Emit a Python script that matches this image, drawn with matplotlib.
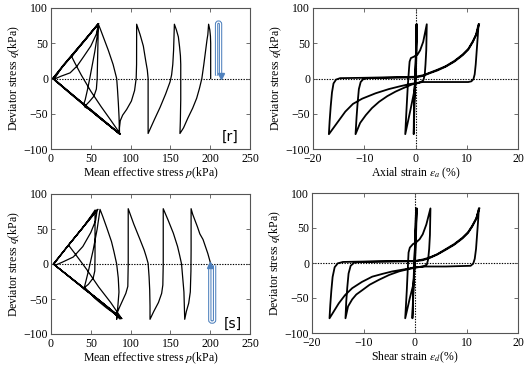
import matplotlib
matplotlib.use("Agg")
import matplotlib.pyplot as plt
from matplotlib.path import Path
from matplotlib.patches import PathPatch

plt.rcParams['font.family'] = ['Liberation Serif', 'DejaVu Serif']
plt.rcParams['mathtext.fontset'] = 'stix'
plt.rcParams['font.size'] = 8.5

# ---------------- data ----------------
# [r] stress path: mean effective stress p (kPa), deviator stress q (kPa)
r_p = [200.6, 200.6, 200.6, 200.3, 199.5, 198,
       197, 196, 194.5, 192, 189.5, 186.5, 183, 178, 172, 166.5, 162,
       162.5, 163, 163, 163, 162.6, 161.5, 160, 157.5, 155,
       154.5, 154, 153, 151.5, 149.5, 144, 137, 130, 122,
       122, 122, 122, 121, 119, 116, 112, 107.6,
       107.6, 107.5, 107, 105, 101, 95, 90, 87, 86, 86,
       85.5, 84.6, 83.5, 82.5, 78, 72, 66, 62, 59.5,
       59, 58.5, 58, 57, 54, 48, 42, 52, 62, 72, 86,
       86, 75, 63, 50, 38, 30, 26, 35, 45, 52, 59,
       58, 55, 52, 49, 46, 43, 41, 55, 70, 86.5,
       70, 50, 30, 15, 6, 4, 12, 24, 33, 41, 50, 57, 59.5,
       45, 30, 15, 3, 20, 40, 60, 87,
       60, 40, 20, 4, 15, 30, 45, 60,
       45, 30, 15, 2.5, 20, 40, 60, 86,
       60, 40, 20, 2, 15, 30, 45, 58.5]
r_q = [0, 30, 50, 60, 69, 77,
       62, 55, 42, 20, 0, -14, -28, -42, -56, -70, -78,
       -60, -30, 0, 20, 32, 45, 59, 69, 77,
       60, 40, 20, 5, -5, -22, -41, -58, -78,
       -50, -20, 0, 12, 25, 46, 62, 77,
       50, 20, 0, -17, -32, -44, -52, -60, -70, -78,
       -55, -35, -15, 0, 20, 40, 58, 70, 77,
       50, 20, 0, -15, -25, -33, -40, -46.5, -55.8, -65, -78,
       -77, -59, -40, -18, 5, 22, 31, 44, 58, 68, 77,
       60, 38, 20, 2, -15, -30, -37, -50, -64, -79,
       -63, -44, -26, -12, -4, -1, 3, 8, 18, 31, 46, 63, 77,
       57, 37, 17, 0, -17, -36, -55, -79,
       -54, -35, -16, -1, 18, 38, 58, 78,
       58.5, 38.5, 18.5, 0.5, -16.5, -35.5, -54.5, -78.5,
       -55, -36.5, -17.5, 0, 17.5, 37.5, 57.5, 77]

# [r] axial strain (%) vs q (kPa)
r_ea = [0, 0.1, 0.2, 0.15, 0, -0.2, -0.35, -0.3, -0.1, 0.1, 0.25, 0.2, 0.05,
        -0.3, -1.0, -2.0,
        -1.8, -1.5, -1.25, -1.15, -0.9, -0.3, 0.4, 0.9, 1.5, 2.2,
        2.1, 1.95, 1.8, 1.55, 1.2, 0.5, -0.5, -1.2, -2.5, -3.9, -5.5, -7.1, -8.5, -9.7, -10.8, -11.7,
        -11.5, -11.3, -11.05, -10.7, -10.2, -9.3, -5, 0, 1.4, 2.7, 4.3, 5.9, 7.6, 9.2, 10.3, 11.2, 11.8, 12.3,
        12.15, 11.95, 11.75, 11.55, 11.3, 10.9, 10.3, 6, 1.4, -1.2, -3, -5.2, -7.8, -10.4, -12.2, -13.7, -15.6, -16.9,
        -16.75, -16.55, -16.3, -16.0, -15.5, -14.7, -10, 0, 1.4, 2.7, 4.3, 5.9, 7.6, 9.2, 10.3, 11.2, 11.9, 12.4]
r_qa = [0, 40, 77, 40, 0, -40, -79, -40, 0, 40, 77, 40, 0,
        -20, -45, -79,
        -50, -10, 15, 24, 29, 31, 34, 40, 52, 77,
        40, 20, 5, -2, -4.5, -6.5, -8, -10, -14, -18.6, -25, -33, -42, -52, -63, -79,
        -55, -35, -15, -5, -1, 0.5, 1, 1.5, 3.5, 7.3, 11.5, 16.8, 24, 33, 41, 52, 62, 77,
        60, 40, 20, 6, -1, -4, -5, -5, -5, -8, -11, -15, -21, -28.6, -36, -47, -66, -79,
        -60, -40, -20, -7, -1.5, 0.5, 1, 2.5, 4.5, 8, 12.5, 17.5, 25, 34, 42, 53, 63, 77]

# [s] stress path
s_p = [200.5, 199.7, 197, 194, 191, 187, 184, 181, 178, 176,
       176, 176, 175.8, 175, 173, 170, 168,
       167.5, 167, 165.5, 164, 161.5, 159, 153.7, 147, 141,
       141, 141, 140.5, 139, 135, 129, 124.4,
       124.4, 124, 123.2, 122, 119.5, 117, 111.8, 104, 97,
       97, 97, 96.5, 94, 90, 86, 83, 82.5,
       84, 85.4, 84.5, 82.5, 79, 76, 70, 65, 61.6,
       58, 53, 47, 42, 55, 70, 88.8,
       75, 60, 45, 30, 22, 30, 40, 50, 55.3,
       55.3, 55.3, 55, 53, 47, 40.6, 60, 75, 88,
       70, 50, 30, 12, 5, 15, 28, 40, 50, 56, 58,
       45, 30, 15, 3, 25, 50, 70, 87,
       65, 40, 20, 3.5, 20, 40, 57,
       40, 20, 3, 30, 60, 89,
       60, 30, 3, 30, 59]
s_q = [0, 4, 15, 25, 35, 43, 53, 62, 71, 79,
       50, 20, -10, -40, -56, -68, -79,
       -60, -40, -20, 0, 13, 25, 44, 63, 79,
       40, 0, -30, -42, -55, -68, -79,
       -60, -37, -18, 1, 11, 20, 35, 57, 79,
       40, 0, -32, -42, -52, -62, -70, -79,
       -60, -40, -20, 0, 18, 32, 52, 68, 78,
       50, 20, -10, -33, -49, -63, -78,
       -55, -33, -8, 15, 27, 38, 52, 68, 77,
       40, 10, -10, -20, -29, -35, -51.5, -65, -77.5,
       -60.5, -42.5, -24.5, -8, -2, 3, 10, 25, 45, 62, 77,
       59, 38, 17, 0, -20, -42.5, -60.5, -78.5,
       -56, -33.5, -15.5, -0.5, 24, 52, 77,
       52.5, 24.5, 0, -24, -51, -78,
       -52, -25, 0, 38, 78]

# [s] shear strain (%) vs q (kPa)
s_ed = [0, 0.1, 0.2, 0.05, -0.1, -0.3, -0.5, -0.35, -0.15, 0.1, 0.35, 0.2, 0,
        -0.3, -1.0, -1.9,
        -1.6, -1.35, -1.25, -1.0, -0.4, 0.3, 0.9, 1.5, 2.2, 3.0,
        2.9, 2.75, 2.55, 2.3, 1.8, 0.3, -1.2, -3.1, -5, -7.0, -8.8, -10.2, -11.4, -12.2, -13.0, -13.5,
        -13.35, -13.15, -12.9, -12.5, -11.8, -10.8, -5, 0, 1.5, 2.7, 4.3, 5.9, 7.6, 9.2, 10.3, 11.1, 11.9, 12.4,
        12.25, 12.05, 11.85, 11.6, 11.3, 10.8, 6, 2, 0, -1.2, -2.8, -4.4, -6.3, -8.3, -10.3, -12.2, -13.6, -14.8, -16.6,
        -16.45, -16.25, -16.0, -15.6, -15.0, -14.0, -7, 0, 1.5, 2.7, 4.3, 5.9, 7.6, 9.2, 10.3, 11.1, 11.9, 12.5]
s_qd = [0, 40, 78, 40, 0, -40, -79, -40, 0, 40, 78, 40, 0,
        -30, -50, -79,
        -40, 0, 15, 22, 27, 30, 34, 41, 55, 78,
        40, 20, 5, -2, -4.5, -6.5, -8.5, -12, -17, -24, -31, -38.6, -45, -52, -62, -79,
        -55, -35, -15, -4, 0.5, 1.5, 2, 2.5, 4, 6.7, 12, 18.6, 26, 35, 43, 52, 63, 78,
        60, 40, 20, 6, -1, -4, -5, -5, -6, -8, -10, -12, -15.5, -19.5, -27, -36, -46, -57.6, -79,
        -60, -40, -20, -6, -0.5, 1.5, 2.5, 3, 5, 7.5, 12.5, 19.5, 27, 36, 44, 53, 64, 78]

p_ticks = [0, 50, 100, 150, 200, 250]
q_ticks = [-100, -50, 0, 50, 100]
e_ticks = [-20, -10, 0, 10, 20]

# ---------------- figure ----------------
W, H = 524, 367
fig = plt.figure(figsize=(W / 100, H / 100), dpi=100)

def rect(l, r, t, b):
    return [l / W, 1 - b / H, (r - l) / W, (b - t) / H]

ax_tl = fig.add_axes(rect(51, 250, 8, 149))
ax_tr = fig.add_axes(rect(313, 518, 8, 149))
ax_bl = fig.add_axes(rect(51, 250, 194, 334))
ax_br = fig.add_axes(rect(312, 518, 193, 333))

qlabel = 'Deviator stress $q$(kPa)'

def style(ax, xticks, xlim):
    ax.set_xlim(*xlim)
    ax.set_ylim(-100, 100)
    ax.set_xticks(xticks)
    ax.set_yticks(q_ticks)
    ax.tick_params(direction='in', top=True, right=True, length=3, width=0.6,
                   labelsize=8.5, color='#555555')
    ax.tick_params(axis='x', pad=3)
    ax.tick_params(axis='y', pad=2)
    for s in ax.spines.values():
        s.set_linewidth(0.8)
        s.set_color('#555555')
    ax.axhline(0, color='black', lw=0.8, ls=(0, (1.2, 1.2)), zorder=1)
    ax.set_ylabel(qlabel, labelpad=1)

# stress paths
for ax, P, Q in [(ax_tl, r_p, r_q), (ax_bl, s_p, s_q)]:
    style(ax, p_ticks, (0, 250))
    ax.plot(P, Q, color='black', lw=0.9, zorder=3, solid_joinstyle='round')
    ax.set_xlabel('Mean effective stress $p$(kPa)', labelpad=0)

ax_tl.text(225, -83, '[r]', fontsize=10, family='DejaVu Sans', ha='center', va='center')
ax_bl.text(229, -85, '[s]', fontsize=10, family='DejaVu Sans', ha='center', va='center')

# blue hollow U-arrows
blue = '#4f81bd'
def u_arrow(ax, x1, x2, y_end, y_turn, head_on_left, up):
    xm = (x1 + x2) / 2
    sgn = 1 if y_turn > y_end else -1
    yc = y_turn - sgn * 3
    verts = [(x1, y_end), (x1, yc), (x1, y_turn), (xm, y_turn),
             (x2, y_turn), (x2, yc), (x2, y_end)]
    codes = [Path.MOVETO, Path.LINETO, Path.CURVE3, Path.CURVE3,
             Path.CURVE3, Path.CURVE3, Path.LINETO]
    pth = Path(verts, codes)
    ax.add_patch(PathPatch(pth, fill=False, edgecolor=blue, lw=2.4, zorder=4))
    ax.add_patch(PathPatch(pth, fill=False, edgecolor='white', lw=0.9, zorder=5))
    hx = x1 if head_on_left else x2
    ax.plot([hx], [y_end], marker='^' if up else 'v', color=blue, ms=4.5, zorder=6)

u_arrow(ax_tl, 208, 213, 4, 80, head_on_left=False, up=False)
u_arrow(ax_bl, 199.5, 205.5, -2, -83, head_on_left=True, up=True)

# strain plots
for ax, E, Q, lab in [(ax_tr, r_ea, r_qa, 'Axial strain $\\varepsilon_a$ (%)'),
                      (ax_br, s_ed, s_qd, 'Shear strain $\\varepsilon_d$(%)')]:
    style(ax, e_ticks, (-20, 20))
    ax.axvline(0, color='black', lw=0.8, ls=(0, (1.2, 1.2)), zorder=1)
    ax.plot(E, Q, color='black', lw=1.3, zorder=3, solid_joinstyle='round')
    ax.set_xlabel(lab, labelpad=0)

fig.savefig('out.png', dpi=100)
